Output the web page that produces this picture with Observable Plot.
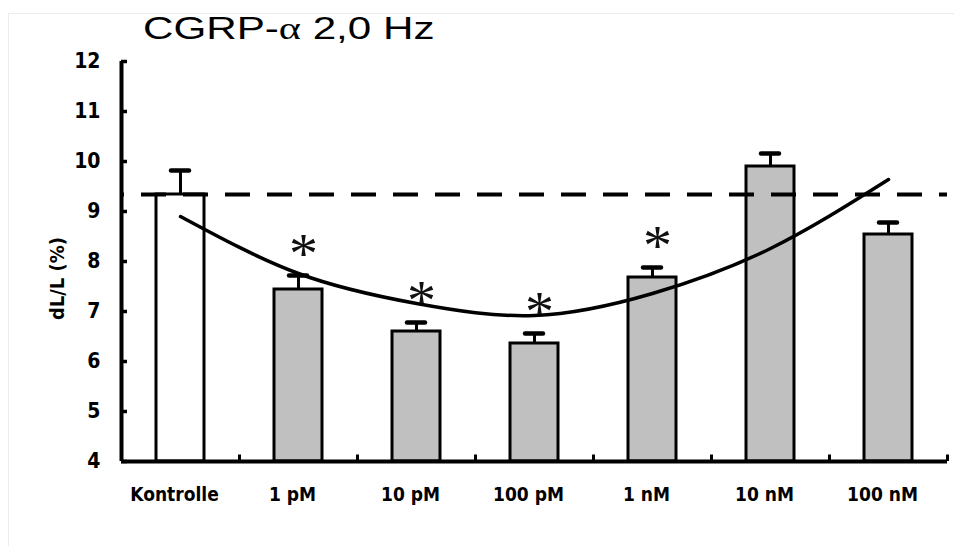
<!DOCTYPE html>
<html>
<head>
<meta charset="utf-8">
<script src="https://cdn.jsdelivr.net/npm/d3@7"></script>
<script src="https://cdn.jsdelivr.net/npm/@observablehq/plot@0.6"></script>
<style>
  body { margin: 0; background: #fff; }
  #wrap { position: relative; width: 954px; height: 546px; overflow: hidden; }
  #border { position: absolute; left: 8px; top: 13px; right: 0; bottom: 0; border-top: 1px solid #ececec; border-left: 1px solid #ececec; pointer-events: none; }
  #title { height: 46px; box-sizing: border-box; padding-top: 13px; padding-left: 143px; font-family: "Liberation Sans", Arial, sans-serif; font-size: 31px; line-height: 1; color: #000; white-space: nowrap; }
  #title > span { display: inline-block; transform: scaleX(1.36); transform-origin: left center; }
  #chart svg { display: block; }
</style>
</head>
<body>
<div id="wrap">
  <div id="border"></div>
  <div id="title"><span>CGRP-<span style="font-family:'Liberation Serif',serif">α</span> 2,0 Hz</span></div>
  <div id="chart"></div>
</div>
<script>
// ---- data ----
const categories = ["Kontrolle", "1 pM", "10 pM", "100 pM", "1 nM", "10 nM", "100 nM"];
const means      = [9.34, 7.44, 6.60, 6.36, 7.68, 9.90, 8.54];
const errors     = [0.48, 0.28, 0.18, 0.20, 0.20, 0.26, 0.24];
const significant = [false, true, true, true, true, false, false];
const trend      = [8.90, 7.76, 7.16, 6.92, 7.36, 8.26, 9.64];
const controlLevel = 9.34;
const yTicks = [4, 5, 6, 7, 8, 9, 10, 11, 12];
const yLabel = "dL/L (%)";
const yMin = 4, yMax = 12;

const data = categories.map((c, i) => ({cat: c, mean: means[i], err: errors[i], sig: significant[i], trend: trend[i], control: i === 0}));

// ---- layout ----
const W = 954, H = 500;
const mL = 121, mR = 7, mT = 15, mB = 85;
const frameW = W - mL - mR;
const bw = frameW / categories.length;
const barW = 48;
const inset = (bw - barW) / 2;
const capW = 18;

const condensed = "'Liberation Sans Narrow', 'DejaVu Sans Condensed', 'Arial Narrow', sans-serif";

const chart = Plot.plot({
  width: W,
  height: H,
  marginLeft: mL,
  marginRight: mR,
  marginTop: mT,
  marginBottom: mB,
  style: {fontFamily: condensed, background: "white", color: "black", overflow: "visible"},
  x: {type: "band", domain: categories, padding: 0},
  y: {domain: [yMin, yMax]},
  marks: [
    // bars
    Plot.barY(data, {x: "cat", y1: () => yMin, y2: "mean", fill: d => d.control ? "white" : "#c0c0c0", stroke: "black", strokeWidth: 3, insetLeft: inset, insetRight: inset}),
    // error bars (upward only)
    Plot.ruleX(data, {x: "cat", y1: "mean", y2: d => d.mean + d.err, stroke: "black", strokeWidth: 3}),
    Plot.tickY(data, {x: "cat", y: d => d.mean + d.err, stroke: "black", strokeWidth: 4.5, strokeLinecap: "round", insetLeft: (bw - capW) / 2, insetRight: (bw - capW) / 2}),
    // control dashed line
    Plot.ruleY([controlLevel], {stroke: "black", strokeWidth: 4, strokeDasharray: "25,17", strokeDashoffset: -20}),
    // trend curve
    Plot.line(data, {x: "cat", y: "trend", curve: "natural", stroke: "black", strokeWidth: 3.5}),
    // significance asterisks
    Plot.text(data.filter(d => d.sig), {x: "cat", y: d => d.mean + d.err, text: () => "*", dx: 5, dy: -21, fontSize: 58, fontFamily: "'Liberation Serif', serif", lineAnchor: "middle", fill: "#111"}),
    // axes lines
    Plot.ruleY([yMin], {stroke: "black", strokeWidth: 4}),
    Plot.ruleX([categories[0]], {x: d => d, y1: yMin, y2: yMax, dx: -bw / 2, stroke: "black", strokeWidth: 4}),
    // inward y ticks
    Plot.tickY(yTicks, {y: d => d, stroke: "black", strokeWidth: 3.5, insetRight: frameW - 6}),
    // inward x ticks at band boundaries
    Plot.ruleX(categories, {x: d => d, y1: yMin, y2: yMin + 0.13, dx: bw / 2, stroke: "black", strokeWidth: 3}),
    Plot.axisY({ticks: yTicks, tickSize: 0, tickPadding: 21, fontSize: 21, fontWeight: "bold", label: null}),
    Plot.text([yLabel], {frameAnchor: "left", text: d => d, rotate: -90, textAnchor: "middle", dx: -64, dy: 17, fontSize: 20, fontWeight: "bold"}),
    Plot.axisX({tickSize: 0, tickPadding: 26, fontSize: 19, fontWeight: "bold", label: null, dx: -6})
  ]
});
document.getElementById("chart").appendChild(chart);
</script>
</body>
</html>
